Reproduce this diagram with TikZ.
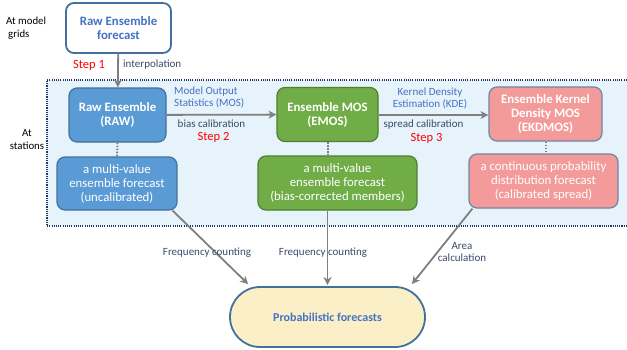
\documentclass[tikz,border=0pt]{standalone}
\usepackage{fontspec}
\setmainfont{Carlito}
\usetikzlibrary{arrows.meta,calc}

\definecolor{hdrblue}{HTML}{4472C4}
\definecolor{edgeblue}{HTML}{41719C}
\definecolor{rawfill}{HTML}{5B9BD5}
\definecolor{emosfill}{HTML}{70AD47}
\definecolor{emosedge}{HTML}{507E32}
\definecolor{kdfill}{HTML}{F39B9A}
\definecolor{kdedge}{HTML}{6F84A8}
\definecolor{stationbg}{HTML}{E6F3FA}
\definecolor{framenavy}{HTML}{203864}
\definecolor{labelnavy}{HTML}{3B4A6B}
\definecolor{probfill}{HTML}{FBEFC8}
\definecolor{flowgray}{HTML}{7F7F7F}

\tikzset{
  box/.style={rounded corners=8pt, line width=1.2pt, align=center,
    inner sep=2pt, font=\fontsize{12.8}{14}\selectfont},
  rawbox/.style={box, fill=rawfill, draw=edgeblue, text=white},
  emosbox/.style={box, fill=emosfill, draw=emosedge, text=white},
  kdbox/.style={box, fill=kdfill, draw=kdedge, text=white},
  lbl/.style={font=\fontsize{11}{12}\selectfont, text=labelnavy, inner sep=0pt, align=center},
  mos/.style={font=\fontsize{11}{12}\selectfont, text=hdrblue, inner sep=0pt},
  stepred/.style={font=\fontsize{12.5}{13}\selectfont, text=red, inner sep=0pt},
  side/.style={font=\fontsize{10.8}{13}\selectfont, text=black, inner sep=0pt},
  flow/.style={draw=flowgray, line width=1.8pt,
    -{Stealth[length=8pt,width=8pt,inset=2.5pt]}},
  link/.style={draw=flowgray, line width=2pt, dash pattern=on 1.5pt off 1.5pt}
}

\begin{document}
\begin{tikzpicture}[x=1pt,y=-1pt]
\useasboundingbox (0,0) rectangle (627,349);

% station band
\fill[stationbg] (47,80) rectangle (640,226);
\draw[framenavy, line width=1.2pt, dash pattern=on 1.1pt off 1.1pt] (640,80) -- (47,80) -- (47,226) -- (640,226);

% side labels
\node[side, anchor=west, align=left] (lgrid) at (6,28) {At model\\\hspace{2pt}grids};
\node[side, align=center] (lstat) at (27,140) {At\\stations};

% grid-level forecast
\node[box, fill=white, draw=edgeblue, line width=1.8pt, text=hdrblue,
  minimum width=105pt, minimum height=50pt] (grid) at (118.5,28)
  {\bfseries Raw Ensemble\\\bfseries forecast};

% station-level methods
\node[rawbox, minimum width=97pt, minimum height=54pt] (raw) at (117.5,115)
  {\bfseries Raw Ensemble\\\bfseries (RAW)};
\node[emosbox, minimum width=101pt, minimum height=54pt] (emos) at (327.5,114.5)
  {\bfseries Ensemble MOS\\\bfseries (EMOS)};
\node[kdbox, minimum width=113pt, minimum height=54pt] (kd) at (545.5,114)
  {\bfseries Ensemble Kernel\\\bfseries Density MOS\\\bfseries (EKDMOS)};

% forecast descriptions
\node[rawbox, minimum width=120pt, minimum height=53pt] (rawdesc) at (117,183.5)
  {a multi-value\\ensemble forecast\\(uncalibrated)};
\node[emosbox, minimum width=159pt, minimum height=54pt] (emosdesc) at (337.5,183)
  {a multi-value\\ensemble forecast\\(bias-corrected members)};
\node[kdbox, minimum width=149pt, minimum height=54pt] (kddesc) at (543.5,181)
  {a continuous probability\\distribution forecast\\(calibrated spread)};

% final product
\node[draw=edgeblue, fill=probfill, line width=1.8pt, rounded corners=30pt,
  minimum width=195pt, minimum height=60pt, text=hdrblue,
  font=\fontsize{12}{13}\selectfont\bfseries] (prob) at (327.5,317) {Probabilistic forecasts};

% step arrows
\draw[flow] (grid) -- (raw);
\draw[flow] (raw) -- (emos);
\draw[flow] (emos.east |- 0,115) -- (kd.west |- 0,115);

% method to description links
\draw[link] (raw.south) -- (rawdesc.north);
\draw[link] (emos.south) -- (emos.south |- emosdesc.north);
\draw[link] (kd.south) -- (kd.south |- kddesc.north);

% descriptions to probabilistic forecasts
\draw[flow] ($(rawdesc.south east)+(-5,0)$) -- ($(prob.north west)+(19,-2)$);
\draw[flow] (emos.south |- emosdesc.south) -- (emos.south |- 0,285);
\draw[flow] ($(kddesc.south west)+(4,0)$) -- ($(prob.north east)+(-14,-2)$);

% arrow annotations
\node[stepred] (s1) at (89,65) {Step 1};
\node[lbl, anchor=west] (interp) at (123,65) {interpolation};
\node[mos, anchor=west, align=left] (mosname) at (174,97) {Model Output\\Statistics (MOS)};
\node[lbl] (bias) at (211.5,124) {bias calibration};
\node[stepred] (s2) at (213.5,137.5) {Step 2};
\node[mos, align=center] (kdename) at (430,98.5) {Kernel Density\\Estimation (KDE)};
\node[lbl] (spread) at (423.5,125) {spread calibration};
\node[stepred] (s3) at (426.5,138.5) {Step 3};
\node[lbl] (fc1) at (207,253) {Frequency counting};
\node[lbl] (fc2) at (323,253) {Frequency counting};
\node[lbl] (area) at (462,252) {Area\\calculation};

\end{tikzpicture}
\end{document}
